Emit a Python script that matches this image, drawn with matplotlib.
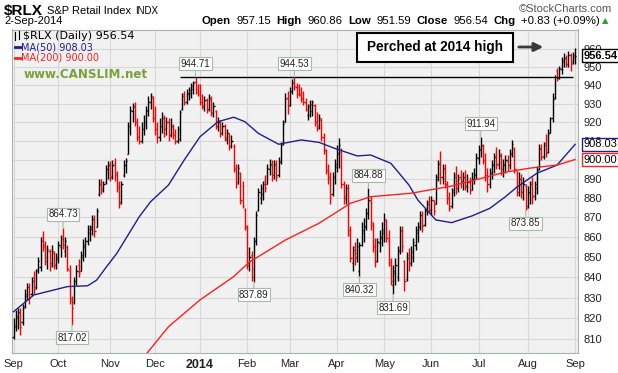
import matplotlib
matplotlib.use("Agg")
import matplotlib.pyplot as plt
import numpy as np
from matplotlib.ticker import FixedLocator, NullLocator, FixedFormatter, NullFormatter
from matplotlib.offsetbox import TextArea, HPacker, AnnotationBbox
from matplotlib.patches import Rectangle
from matplotlib.lines import Line2D

plt.rcParams['font.family'] = ['Liberation Sans', 'DejaVu Sans']

# daily OHLC, 3-Sep-2013 .. 2-Sep-2014 (trading day index 0..250)
opens = [
    811, 816, 820, 823, 818, 826, 831, 835, 832, 840, 835, 844, 845, 860, 856, 848, 853, 847, 852, 846,  # Sep
    849, 855, 860, 853, 855, 843, 830, 828, 838, 846, 843, 850, 855, 858, 862, 864, 869, 865, 882, 888, 884, 888, 895,  # Oct
    897, 891, 898, 893, 886, 878, 892, 897, 903, 918, 926, 928, 920, 912, 910, 916, 920, 926, 931, 933,  # Nov
    922, 916, 912, 918, 922, 916, 920, 913, 918, 913, 910, 911, 927, 935, 931, 935, 936, 938, 942, 938,  # Dec
    940, 931, 928, 932, 927, 932, 925, 926, 918, 920, 914, 918, 911, 914, 907, 907, 895, 888, 893, 886, 874,  # Jan
    865, 846, 851, 840, 858, 874, 880, 882, 889, 887, 895, 897, 892, 897, 892, 899, 909, 920, 933,  # Feb
    929, 937, 942, 939, 939, 935, 933, 931, 924, 924, 926, 929, 920, 917, 921, 912, 905, 894, 891, 882, 891,  # Mar
    896, 903, 904, 887, 880, 885, 861, 847, 855, 850, 843, 856, 862, 865, 872, 878, 866, 855, 848, 857, 860,  # Apr
    862, 868, 858, 846, 836, 842, 840, 853, 863, 848, 839, 851, 847, 850, 856, 862, 865, 871, 866, 874, 878,  # May
    874, 879, 877, 891, 898, 891, 895, 887, 880, 876, 884, 892, 885, 891, 889, 891, 886, 888, 884, 890, 892,  # Jun
    901, 905, 907, 899, 892, 887, 893, 897, 902, 897, 902, 895, 897, 899, 897, 903, 906, 894, 883, 890, 883, 886,  # Jul
    876, 883, 888, 881, 885, 895, 906, 902, 909, 904, 914, 922, 933, 948, 944, 949, 953, 955, 952, 957, 953, 957.15,  # Aug
]
highs = [
    820, 824, 825, 825, 827, 834, 837, 837, 840, 843, 844, 850, 860, 863, 858, 856, 854, 856, 853, 852,
    858, 861, 864.73, 860, 856, 846, 831, 840, 846, 849, 853, 859, 860, 866, 866, 871, 871, 875, 890, 890, 889, 897, 899,
    899, 900, 901, 894, 889, 889, 900, 901, 920, 928.5, 930.5, 931, 922, 918, 920, 924, 928.5, 934, 936, 934,
    928.5, 920, 922, 925.5, 924, 923, 922, 922, 919, 916, 918, 926.5, 936, 937, 938, 939, 941.5, 942.5, 944.71, 941,
    941, 935, 934, 933, 935, 934, 931, 926.5, 923, 921, 920, 919, 916, 914, 913, 908, 897.5, 897.5, 893.5, 889, 875,
    866, 855, 853, 860, 873, 885, 887, 889, 892, 897.5, 900.5, 899.5, 899.5, 899.5, 901.5, 909.5, 921, 936, 937,
    939.3, 943.5, 944.53, 941.5, 941, 939, 937, 933, 930, 932, 932, 930, 925.5, 924.5, 922, 914, 905.5, 897.5, 893.5, 893.5, 900.5,
    907.5, 911.5, 906, 889, 887, 887, 865.5, 855.5, 857.5, 859.5, 857.5, 867.5, 869.5, 875, 884.88, 881, 867.5, 859.5, 859.5, 863.5, 867.5,
    872, 869, 863.5, 849.5, 846, 849.5, 855.5, 865.5, 865.5, 848.5, 852.5, 854.5, 855.5, 859.5, 865.5, 867.5, 873, 873, 875, 879, 881,
    881, 879, 892.5, 899.5, 904.5, 897.5, 897.5, 889, 883, 885, 893.5, 896.5, 892.5, 894.5, 893.5, 894.5, 892.5, 891, 893.5, 895.5, 903.5,
    907.5, 911.94, 908.5, 903.5, 895.5, 895.5, 899.5, 903.5, 906.5, 905.5, 903.5, 900.5, 902.5, 902.5, 905.5, 910.5, 906.5, 894, 893.5, 892.5, 891, 887,
    886, 889, 891, 889, 896.5, 908.5, 908.5, 909.5, 913.5, 916, 923, 936, 945.5, 949.5, 950.5, 956, 958, 957, 959, 958, 958.5, 960.86,
]
lows = [
    810, 814, 815, 812, 817, 825, 829, 827, 831, 832, 834, 842, 843, 853, 846, 844, 843, 845, 844, 844,
    847, 850, 854, 850, 843, 827, 817.02, 827, 836, 840, 843, 848, 850, 856, 858, 861, 860, 865, 881, 882, 883, 887, 890,
    889, 890, 889, 883, 875, 877, 891, 893, 903, 913, 920, 918, 910, 908, 909, 913, 916, 923.5, 927, 920,
    913, 909, 910, 914, 912, 913, 910, 912, 911, 908, 909, 910, 926.5, 929, 930, 932, 933, 935, 935, 934,
    929, 927, 926, 925, 926, 923.5, 922.5, 916, 915, 912, 913, 910, 908, 905, 906, 893.5, 885, 887, 877, 875, 863.5,
    844, 843, 838, 837.89, 856, 873, 877, 879, 883, 887, 892, 889, 890, 889, 891, 897.5, 907.5, 920, 924.5,
    928.5, 935, 937.5, 933, 934, 931, 929, 926, 921, 922.5, 923.5, 918, 915, 916, 910, 903, 892.5, 887, 877, 881, 887,
    893.5, 895.5, 885, 877, 877, 860.5, 847.5, 843, 846, 847.5, 840.32, 855.5, 857.5, 863.5, 869, 863.5, 852.5, 845, 847.5, 852.5, 855.5,
    857.5, 857.5, 845.5, 836, 831.69, 836, 838, 851.5, 852.5, 833, 838, 843, 845.5, 847.5, 853.5, 857.5, 863.5, 862.5, 865.5, 871, 872,
    871, 871, 877, 889, 887, 887, 885, 877, 873, 875, 881, 882, 883, 885, 884, 884, 883, 882, 884, 887, 890,
    897.5, 901.5, 897.5, 889, 883, 885, 890, 893, 895, 895, 892, 891, 893, 894, 895, 901.5, 893, 881, 881, 880, 879, 873.85,
    875, 877, 877, 879, 882, 894.5, 899.5, 900.5, 901.5, 903.5, 914, 920, 932.5, 942.5, 943.5, 946.5, 950, 950, 950, 948, 952, 951.59,
]
closes = [
    817, 821, 823, 816, 825, 832, 835, 830, 838, 834, 843, 848, 858, 855, 850, 854, 846, 853, 846, 850,
    856, 859, 856, 858, 844, 829, 825, 838, 843, 842, 851, 856, 858, 864, 865, 869, 863, 873, 887, 885, 887, 895, 897,
    891, 897, 892, 885, 877, 887, 897, 899, 918, 926.5, 928.5, 920, 912, 910, 916, 920, 926.5, 931, 934, 922,
    916, 912, 918, 922, 916, 920, 913, 918, 913, 910, 916, 925.5, 934, 931, 936, 937.5, 939.5, 941.5, 936.5, 935,
    931, 929, 932, 926.5, 933, 925.5, 928.5, 918, 920, 914, 918, 912, 914, 907, 910, 895.5, 887, 895.5, 879, 876, 865.5,
    846, 850, 844, 858, 871, 883, 885, 887, 885, 895.5, 897.5, 892, 897.5, 891, 898.5, 907.5, 919, 932.5, 928.5,
    937, 941.5, 939.5, 935, 934.5, 932.5, 931, 927, 928.5, 930, 931, 920, 918, 922, 912, 905, 894.5, 890, 880, 891, 897.5,
    903.5, 907.5, 887, 881, 885, 863.5, 849.5, 853.5, 852, 855.5, 856, 863.5, 865.5, 872, 879, 867.5, 855.5, 847.5, 857.5, 859.5, 863.5,
    869, 859.5, 847.5, 838, 843, 846, 853.5, 863.5, 855.5, 838, 849.5, 846.5, 852.5, 857.5, 863.5, 865.5, 871, 865.5, 873, 877, 874,
    879, 873, 890, 897.5, 891, 895.5, 887, 880, 875, 883, 891, 885, 890, 888.5, 891, 886, 888, 884, 890, 892.5, 901.5,
    905.5, 907.5, 899.5, 892, 887, 893, 897.5, 901.5, 897.5, 902.5, 895, 897.5, 899.5, 897, 903.5, 908.5, 895, 883, 890, 883, 887, 875,
    883, 887, 881, 887, 894.5, 905.5, 901.5, 907.5, 903.5, 914, 922, 932.5, 944.5, 943.5, 949.5, 954, 955, 952, 957, 952, 955.7, 956.54,
]

# moving averages (trading day, value)
ma50_days = [0, 9, 24, 33, 37, 41, 46, 56, 61, 69, 76, 83, 91, 98, 103, 109, 118, 128, 136,
             143, 153, 159, 168, 176, 180, 188, 195, 204, 212, 219, 224, 233, 242, 250]
ma50_vals = [823.2, 831.3, 835.4, 835.8, 838.6, 844.6, 851.9, 870.4, 878.0, 886.7, 899.8, 912.1,
             920.2, 922.6, 920.2, 913.9, 908.1, 910.4, 909.1, 905.9, 901.9, 902.4, 898.0, 886.7,
             878.9, 868.7, 867.3, 870.7, 874.6, 880.6, 885.5, 892.8, 897.1, 908.03]
ma200_days = [58, 69, 83, 98, 105, 121, 136, 150, 159, 177, 195, 219, 230, 242, 250]
ma200_vals = [801.6, 816.0, 828.9, 840.3, 847.5, 858.5, 867.0, 877.2, 880.6, 882.4, 886.1, 893.4,
              895.5, 897.1, 900.00]

callout_days = [81, 125, 22, 208, 158, 26, 107, 154, 169, 228]
callout_vals = [944.71, 944.53, 864.73, 911.94, 884.88, 817.02, 837.89, 840.32, 831.69, 873.85]
high_2014 = 944.71
high_line_days = [74, 249]

month_days = [0, 20, 43, 63, 83, 104, 123, 144, 165, 186, 207, 229, 250]
month_labels = ["Sep", "Oct", "Nov", "Dec", "2014", "Feb", "Mar", "Apr", "May", "Jun", "Jul", "Aug", "Sep"]
price_ticks = list(range(810, 961, 10))

W, H = 618, 373
def fx(px):
    return px / W
def fy(py):
    return 1 - py / H

fig = plt.figure(figsize=(6.18, 3.73), dpi=100)
ax = fig.add_axes([fx(12), fy(353), fx(578) - fx(12), fy(29.5) - fy(353)])
ax.set_facecolor('#f1f1f1')
ax.set_yscale('log')
ax.set_ylim(803.5, 971.3)
ax.set_xlim(-0.7, 251.3)

ax.yaxis.set_major_locator(FixedLocator(price_ticks))
ax.yaxis.set_major_formatter(FixedFormatter([str(t) for t in price_ticks]))
ax.yaxis.set_minor_locator(NullLocator())
ax.yaxis.set_minor_formatter(NullFormatter())
ax.yaxis.tick_right()
ax.tick_params(axis='y', length=0, pad=4, labelsize=8, labelcolor='#222222')
ax.set_xticks(month_days)
ax.set_xticklabels(month_labels)
ax.tick_params(axis='x', length=0, pad=4, labelsize=8, labelcolor='#222222')
for lab in ax.get_xticklabels():
    if lab.get_text() == '2014':
        lab.set_fontweight('bold')
        lab.set_fontsize(9)
ax.grid(True, color='#d8d8d8', lw=0.8)
ax.set_axisbelow(True)
for sp in ax.spines.values():
    sp.set_color('#a3b5a3')

# OHLC bars: red when close is below the previous close
x = np.arange(len(closes))
cl = np.array(closes)
colors = ['black'] + ['red' if cl[i] < cl[i - 1] else 'black' for i in range(1, len(cl))]
ax.vlines(x, lows, highs, colors=colors, lw=1.0, zorder=3)
ax.hlines(opens, x - 0.5, x, colors=colors, lw=1.0, zorder=3)
ax.hlines(closes, x, x + 0.5, colors=colors, lw=1.0, zorder=3)

ax.plot(ma50_days, ma50_vals, color='#1f1f8f', lw=1.0, zorder=4)
ax.plot(ma200_days, ma200_vals, color='#ff2020', lw=1.0, zorder=4)
ax.hlines(high_2014, high_line_days[0], high_line_days[1], color='black', lw=1.0, zorder=4)

for d, v in zip(callout_days, callout_vals):
    above = v == highs[d]
    ax.annotate(f"{v:.2f}", xy=(d, v), xytext=(0, 6 if above else -6), textcoords='offset points',
                ha='center', va='bottom' if above else 'top', fontsize=7, color='#222222',
                bbox=dict(boxstyle='square,pad=0.15', fc='white', ec='#a9b9a9', lw=0.8),
                arrowprops=dict(arrowstyle='-', color='#a9b9a9', lw=0.8, shrinkA=0, shrinkB=0),
                zorder=6)

# value tags on the right
for val, ec, wt in [(closes[-1], 'black', 'bold'), (ma50_vals[-1], '#1f1f8f', 'normal'),
                    (ma200_vals[-1], '#ff2020', 'normal')]:
    ax.annotate(f"{val:.2f}", xy=(1, val), xycoords=('axes fraction', 'data'), xytext=(4, 0),
                textcoords='offset points', va='center', ha='left', fontsize=8, fontweight=wt,
                bbox=dict(boxstyle='square,pad=0.15', fc='white', ec=ec, lw=1),
                annotation_clip=False, zorder=7)

# header
fig.text(fx(4), fy(11), "$RLX", fontsize=11, fontweight='bold', va='center', ha='left')
fig.text(fx(47), fy(11), "S&P Retail Index", fontsize=8, va='center', ha='left')
fig.text(fx(135), fy(11), "INDX", fontsize=7, va='center', ha='left')
fig.text(fx(612), fy(9), "\u00a9StockCharts.com", fontsize=8, va='center', ha='right', color='#555555')
fig.text(fx(4), fy(21), "2-Sep-2014", fontsize=8, va='center', ha='left')

pieces = [("Open", 'bold'), ("957.15", 'normal'), ("High", 'bold'), ("960.86", 'normal'),
          ("Low", 'bold'), ("951.59", 'normal'), ("Close", 'bold'), ("956.54", 'normal'),
          ("Chg", 'bold'), ("+0.83 (+0.09%)", 'normal')]
boxes = []
for s, w in pieces:
    boxes.append(TextArea(s, textprops=dict(fontsize=8.2, fontweight=w)))
packer = HPacker(children=boxes, sep=4, pad=0, align='baseline')
ab = AnnotationBbox(packer, (fx(600), fy(21)), xycoords='figure fraction', box_alignment=(1, 0.5),
                    frameon=False, pad=0)
fig.add_artist(ab)
fig.text(fx(602), fy(21), "\u25b2", fontsize=6, color='#2ca02c', va='center', ha='left',
         family='DejaVu Sans')

# legend block inside the chart
fig.add_artist(Line2D([fx(15), fx(15)], [fy(32), fy(40)], color='black', lw=0.8))
fig.add_artist(Line2D([fx(19), fx(19)], [fy(31), fy(39)], color='black', lw=0.8))
fig.text(fx(23), fy(36), "$RLX (Daily) 956.54", fontsize=8, va='center', ha='left', family='DejaVu Sans')
fig.add_artist(Line2D([fx(15), fx(21)], [fy(47.3), fy(47.3)], color='#1f1f8f', lw=2))
fig.text(fx(21), fy(47.3), "MA(50) 908.03", fontsize=7, va='center', ha='left', color='#1f1f8f',
         family='DejaVu Sans')
fig.add_artist(Line2D([fx(15), fx(21)], [fy(57.7), fy(57.7)], color='#ff2020', lw=2))
fig.text(fx(21), fy(57.7), "MA(200) 900.00", fontsize=7, va='center', ha='left', color='#ff2020',
         family='DejaVu Sans')
fig.text(fx(24), fy(75), "www.CANSLIM.net", fontsize=8.6, va='center', ha='left', color='#7aa03c',
         family='DejaVu Sans', fontweight='bold')

# callout box and arrow
fig.add_artist(Rectangle((fx(357), fy(62)), fx(513) - fx(357), fy(33) - fy(62), transform=fig.transFigure,
                         fc='white', ec='black', lw=1.5, zorder=10))
fig.text(fx(435), fy(47.5), "Perched at 2014 high", fontsize=9.8, fontweight='bold', ha='center',
         va='center', zorder=11)
ax.annotate('', xy=(fx(546), fy(47)), xytext=(fx(516), fy(47)), xycoords='figure fraction',
            textcoords='figure fraction',
            arrowprops=dict(arrowstyle='-|>', color='#3a3a3a', lw=2, mutation_scale=13),
            annotation_clip=False, zorder=11)

fig.savefig('out.png', dpi=100)
